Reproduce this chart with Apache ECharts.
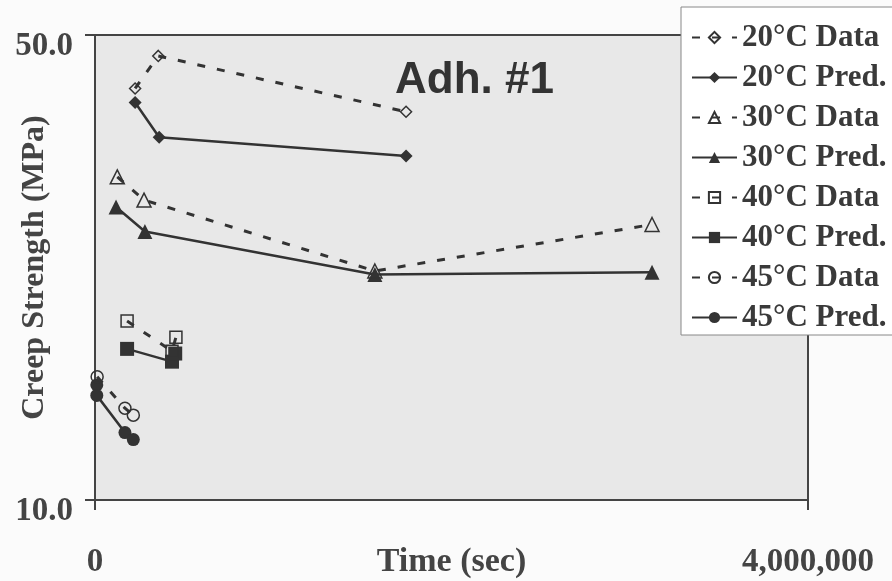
<!DOCTYPE html>
<html>
<head>
<meta charset="utf-8">
<script src="https://cdn.jsdelivr.net/npm/echarts@6/dist/echarts.min.js"></script>
<style>
  html, body { margin: 0; padding: 0; background: #fbfbfb; }
  #main { width: 892px; height: 581px; }
</style>
</head>
<body>
<div id="main"></div>
<script>
// time (sec) and creep strength (MPa)
const time20Data = [225000, 355000, 1745000];
const str20Data = [45.4, 48.2, 43.4];
const time20Pred = [225000, 360000, 1745000];
const str20Pred = [44.2, 41.2, 39.6];

const time30Data = [125000, 275000, 1570000, 3125000];
const str30Data = [37.8, 35.8, 29.7, 33.7];
const time30Pred = [118000, 280000, 1570000, 3125000];
const str30Pred = [35.2, 33.1, 29.4, 29.6];

const time40Data = [180000, 432000, 454000];
const str40Data = [25.4, 22.8, 24.0];
const time40Pred = [180000, 432000, 450000];
const str40Pred = [23.0, 21.9, 22.6];

const time45Data = [12000, 168000, 215000];
const str45Data = [20.6, 17.9, 17.3];
const time45Pred = [10000, 10000, 168000, 215000];
const str45Pred = [19.9, 19.0, 15.8, 15.2];

const yTicks = [10, 50];
const xTicks = [0, 4000000];

const ink = "#333";
const serif = "Liberation Serif";

function pairs(xs, ys) {
  return xs.map((x, i) => [x, ys[i]]);
}

function dataSeries(name, symbol, size, xs, ys) {
  return {
    name: name,
    type: "line",
    data: pairs(xs, ys),
    symbol: symbol,
    symbolSize: size,
    showSymbol: true,
    itemStyle: { color: "rgba(0,0,0,0)", borderColor: ink, borderWidth: 1.5 },
    lineStyle: { color: ink, width: 3, type: [8, 12] },
    emphasis: { disabled: true },
    z: 3,
  };
}

function predSeries(name, symbol, size, xs, ys) {
  return {
    name: name,
    type: "line",
    data: pairs(xs, ys),
    symbol: symbol,
    symbolSize: size,
    showSymbol: true,
    itemStyle: { color: ink },
    lineStyle: { color: ink, width: 2.5, type: "solid" },
    emphasis: { disabled: true },
    z: 2,
  };
}

const chart = echarts.init(document.getElementById("main"));
const option = {
  backgroundColor: "#fbfbfb",
  animation: false,
  title: {
    text: "Adh. #1",
    left: 390,
    top: 54,
    textStyle: {
      fontFamily: "Liberation Sans",
      fontSize: 44,
      fontWeight: "bold",
      color: ink,
    },
  },
  legend: {
    orient: "vertical",
    left: 681,
    top: 7,
    itemWidth: 45,
    itemHeight: 14,
    itemGap: 9,
    padding: [15, 20, 2, 10],
    backgroundColor: "#ffffff",
    borderColor: "#888",
    borderWidth: 1,
    textStyle: {
      fontFamily: serif,
      fontSize: 31,
      fontWeight: "bold",
      color: "#3a3a3a",
    },
    data: [
      "20°C Data", "20°C Pred.", "30°C Data", "30°C Pred.",
      "40°C Data", "40°C Pred.", "45°C Data", "45°C Pred.",
    ],
  },
  grid: {
    left: 95,
    right: 84,
    top: 35,
    bottom: 81,
    outerBoundsMode: "none",
    containLabel: false,
    show: true,
    backgroundColor: "#e8e8e8",
    borderColor: "#444",
    borderWidth: 2,
  },
  xAxis: {
    type: "value",
    min: xTicks[0],
    max: xTicks[1],
    interval: xTicks[1] - xTicks[0],
    name: "Time (sec)",
    nameLocation: "middle",
    nameGap: 45,
    nameMoveOverlap: false,
    nameTextStyle: { fontFamily: serif, fontSize: 34, fontWeight: "bold", color: "#444" },
    axisLine: { lineStyle: { color: "#444", width: 2 } },
    axisTick: { show: true, length: 10, lineStyle: { color: "#444", width: 2 } },
    splitLine: { show: false },
    axisLabel: {
      margin: 46,
      verticalAlign: "top",
      fontFamily: serif,
      fontSize: 33,
      fontWeight: "bold",
      color: "#444",
      formatter: (v) => v.toLocaleString("en-US"),
    },
  },
  yAxis: {
    type: "value",
    min: yTicks[0],
    max: yTicks[1],
    interval: yTicks[1] - yTicks[0],
    name: "Creep Strength (MPa)",
    nameLocation: "middle",
    nameRotate: 90,
    nameGap: 44,
    nameMoveOverlap: false,
    nameTextStyle: { fontFamily: serif, fontSize: 32, fontWeight: "bold", color: "#444" },
    axisLine: { show: true, lineStyle: { color: "#444", width: 2 } },
    axisTick: { show: true, length: 10, lineStyle: { color: "#444", width: 2 } },
    splitLine: { show: false },
    axisLabel: {
      margin: 22,
      verticalAlign: "top",
      lineHeight: 22,
      fontFamily: serif,
      fontSize: 33,
      fontWeight: "bold",
      color: "#444",
      formatter: (v) => v.toFixed(1),
    },
  },
  series: [
    dataSeries("20°C Data", "diamond", 11, time20Data, str20Data),
    predSeries("20°C Pred.", "diamond", 13, time20Pred, str20Pred),
    dataSeries("30°C Data", "triangle", 14, time30Data, str30Data),
    predSeries("30°C Pred.", "triangle", 15, time30Pred, str30Pred),
    dataSeries("40°C Data", "rect", 12, time40Data, str40Data),
    predSeries("40°C Pred.", "rect", 14, time40Pred, str40Pred),
    dataSeries("45°C Data", "circle", 12, time45Data, str45Data),
    predSeries("45°C Pred.", "circle", 13, time45Pred, str45Pred),
  ],
};
chart.setOption(option);
</script>
</body>
</html>
